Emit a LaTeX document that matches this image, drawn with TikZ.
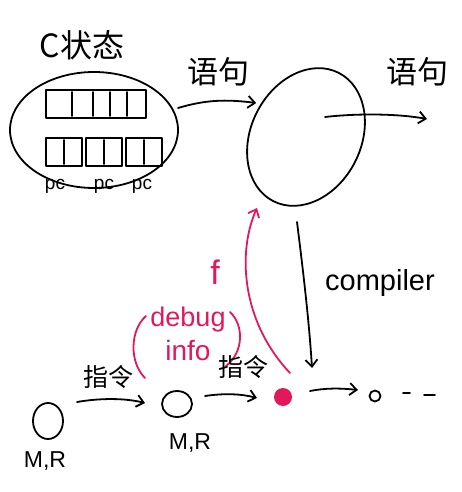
\documentclass[tikz,border=0pt]{standalone}
\usepackage{fontspec}
\setmainfont{Liberation Sans}
\newfontfamily\cjk{Noto Sans CJK SC}
\usetikzlibrary{arrows.meta,shapes.geometric}
\definecolor{penred}{RGB}{226,24,92}
\tikzset{
  pen/.style={line width=1.8pt,line cap=round,line join=round},
  arr/.style={pen,-{Straight Barb[length=7pt,width=12pt,line width=1.8pt]}},
  redpen/.style={pen,draw=penred},
  lbl/.style={inner sep=0pt},
}
\begin{document}
\begin{tikzpicture}[x=1pt,y=-1pt]
\useasboundingbox (0,0) rectangle (462,492);
% title
\node[lbl,font=\cjk\fontsize{32}{34}\selectfont] (title) at (82,45) {C状态};
% left C state oval
\node[pen,draw,ellipse,minimum width=168pt,minimum height=116pt] (cstate) at (94,130) {};
% memory array
\draw[pen] (46,90) rectangle (146,118);
\foreach \xx in {72,93,110,127} \draw[pen] (\xx,92) -- (\xx,116);
% registers
\foreach \xx in {46,86,126} {
  \draw[pen] (\xx,138) rectangle ++(36,28);
  \draw[pen] (\xx+18,140) -- (\xx+18,164);
}
\foreach \xx/\nn in {55/p1,104/p2,142/p3}
  \node[lbl,font=\fontsize{19}{20}\selectfont] (\nn) at (\xx,186) {pc};
% big oval
\node[pen,draw,ellipse,minimum width=110pt,minimum height=144pt,rotate=-27] (oval) at (306,137) {};
% arrow C state -> oval
\coordinate (a1s) at (178,108);
\draw[arr] (a1s) .. controls (205,100) and (225,99) .. (oval.west |- 0,103);
\node[lbl,font=\cjk\fontsize{31}{33}\selectfont] (lab1) at (218,72) {语句};
% arrow out of oval
\coordinate (a2s) at (325,117);
\coordinate (a2e) at (427,119);
\draw[arr] (a2s) .. controls (360,113) and (400,114) .. (a2e);
\node[lbl,font=\cjk\fontsize{31}{33}\selectfont] (lab2) at (417,72) {语句};
% compiler arrow
\coordinate (cs) at (297,222);
\node[circle,fill=penred,minimum size=18pt,inner sep=0pt] (m3) at (283,397) {};
\coordinate (ce) at (312,368);
\draw[arr] (cs) .. controls (303,270) and (309,320) .. (ce);
\node[lbl,font=\fontsize{29}{30}\selectfont] (comp) at (380,283) {compiler};
% red arrow (debug info)
\coordinate (re) at (257,208);
\draw[redpen,-{Straight Barb[length=7pt,width=12pt,line width=1.8pt]}] (290,373) .. controls (240,320) and (238,250) .. (re);
\node[lbl,text=penred,font=\fontsize{34}{36}\selectfont] (f) at (215,272) {f};
\node[lbl,text=penred,font=\fontsize{27}{29}\selectfont] (dbg) at (188,320) {debug};
\node[lbl,text=penred,font=\fontsize{28}{30}\selectfont] (info) at (188,350) {info};
\draw[redpen] (146,316) .. controls (130,330) and (129,362) .. (145,378);
\draw[redpen] (230,312) .. controls (244,325) and (244,352) .. (226,366);
% machine states
\node[pen,draw,ellipse,minimum width=30pt,minimum height=36pt] (m1) at (48,421) {};
\node[lbl,font=\fontsize{23}{25}\selectfont] (m1l) at (45,461) {M,R};
\node[pen,draw,ellipse,minimum width=30pt,minimum height=26pt] (m2) at (177,404) {};
\node[lbl,font=\fontsize{23}{25}\selectfont] (m2l) at (190,443) {M,R};
\node[pen,draw,circle,minimum size=11pt,inner sep=0pt] (m4) at (375,396) {};
\draw[arr] (77,402) .. controls (100,398) and (125,398) .. (145,403);
\node[lbl,font=\cjk\fontsize{25}{27}\selectfont] (i1) at (108,377) {指令};
\draw[arr] (205,396) .. controls (225,393) and (242,394) .. (257,398);
\node[lbl,font=\cjk\fontsize{25}{27}\selectfont] (i2) at (243,367) {指令};
\draw[arr] (310,391) .. controls (325,388) and (340,388) .. (358,390);
\draw[pen] (403,393) -- (410,393);
\draw[pen] (424,395) -- (435,395);
\end{tikzpicture}
\end{document}
